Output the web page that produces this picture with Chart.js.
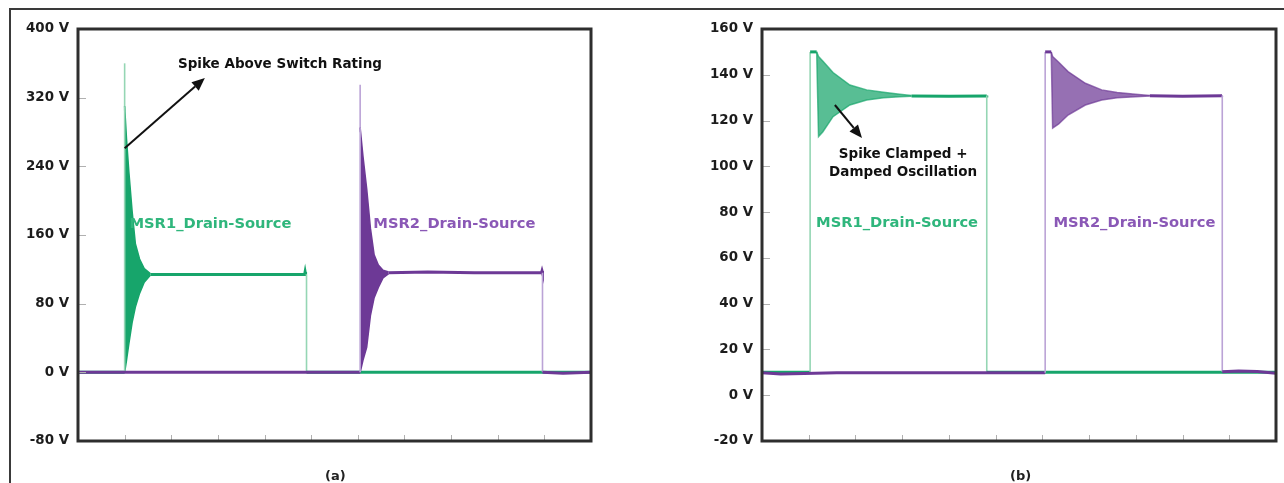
<!DOCTYPE html>
<html>
<head>
<meta charset="utf-8">
<script src="https://cdn.jsdelivr.net/npm/chart.js@4.4.1/dist/chart.umd.min.js"></script>
<style>
  body { margin: 0; background: #fff; width: 1284px; height: 483px; overflow: hidden; position: relative; }
  canvas { position: absolute; top: 0; }
  #chartA { left: 0; }
  #chartB { left: 640px; }
  .frame-top { position: absolute; left: 9px; top: 8px; width: 1275px; height: 0; border-top: 2px solid #3a3a3a; }
  .frame-left { position: absolute; left: 9px; top: 8px; width: 0; height: 475px; border-left: 2px solid #3a3a3a; }
  .cap { position: absolute; top: 468px; font: bold 13px "DejaVu Sans", sans-serif; color: #222; }
</style>
</head>
<body>
<canvas id="chartA" width="640" height="483"></canvas>
<canvas id="chartB" width="644" height="483"></canvas>
<div class="frame-top"></div>
<div class="frame-left"></div>
<div class="cap" style="left:325px">(a)</div>
<div class="cap" style="left:1010px">(b)</div>
<script>
// x is measured in scope divisions (0..11), y in volts

// ---- panel (a) ----
const aYTicks = [-80, 0, 80, 160, 240, 320, 400];
const xTicks = [1, 2, 3, 4, 5, 6, 7, 8, 9, 10];

const aMsr1X = [0, 1.0, 1.0, 1.55, 1.55, 4.86, 4.87, 4.88, 4.9, 4.9, 11];
const aMsr1Y = [0, 0, 310, null, 114, 114, 117, 114, 114, 0, 0];
const aSpike1X = [1.0, 1.0];
const aSpike1Y = [305, 360];
const aEnv1X = [1.0, 1.04, 1.09, 1.16, 1.23, 1.32, 1.42, 1.55];
const aEnv1Hi = [310, 272, 234, 188, 150, 132, 121, 115];
const aEnv1Lo = [0, 14, 33, 58, 76, 92, 105, 113];

const aMsr2X = [0, 6.05, 6.05, 6.66, 6.66, 7.5, 8.5, 9.94, 9.95, 9.96, 9.96, 10.4, 11];
const aMsr2Y = [0, 0, 285, null, 116, 117, 116, 116, 118, 116, 0, -1, 0];
const aSpike2X = [6.05, 6.05];
const aSpike2Y = [280, 335];
const aEnv2X = [6.05, 6.11, 6.19, 6.27, 6.35, 6.44, 6.54, 6.66];
const aEnv2Hi = [285, 252, 214, 168, 137, 125, 119, 117];
const aEnv2Lo = [0, 14, 29, 66, 87, 99, 110, 115];

// ---- panel (b) ----
const bYTicks = [-20, 0, 20, 40, 60, 80, 100, 120, 140, 160];

const bMsr1X = [0, 1.03, 1.03, 1.17, 3.2, 3.2, 4.0, 4.8, 4.81, 4.81, 11];
const bMsr1Y = [10, 10, 150, 150, null, 130.7, 130.6, 130.7, 131, 10, 10];
const bEnv1X = [1.17, 1.21, 1.3, 1.52, 1.88, 2.24, 2.6, 2.95, 3.2];
const bEnv1Hi = [150, 148, 146, 141, 135.5, 133.4, 132.4, 131.5, 130.9];
const bEnv1Lo = [150, 113, 115, 121.7, 126.8, 129, 130, 130.4, 130.6];

const bMsr2X = [0, 0.4, 0.9, 1.6, 6.06, 6.06, 6.19, 8.3, 8.3, 9.0, 9.84, 9.85, 9.85, 10.2, 10.6, 11];
const bMsr2Y = [9.8, 9.3, 9.5, 9.8, 9.8, 150, 150, null, 130.8, 130.6, 130.8, 131, 10.3, 10.6, 10.4, 9.6];
const bEnv2X = [6.19, 6.22, 6.35, 6.55, 6.92, 7.27, 7.6, 7.99, 8.3];
const bEnv2Hi = [150, 148, 145.5, 141.4, 136.3, 133.4, 132.3, 131.5, 130.9];
const bEnv2Lo = [150, 116.7, 118.5, 122.4, 126.8, 129, 130, 130.4, 130.7];

const GREEN = '#17a56b';
const GREEN_LIGHT = '#95d6b4';
const GREEN_TEXT = '#2fb67c';
const PURPLE = '#6d3996';
const PURPLE_LIGHT = '#bba3d6';
const PURPLE_TEXT = '#8a58b6';
const FONT = '"DejaVu Sans", sans-serif';

Chart.defaults.font.family = FONT;

const pts = (xs, ys) => xs.map((x, i) => ({ x: x, y: ys[i] }));
const vertical = c => c.p0.parsed.x === c.p1.parsed.x;

function trace(xs, ys, dark, light, width, order) {
    return {
        data: pts(xs, ys),
        borderColor: dark,
        borderWidth: width,
        pointRadius: 0,
        fill: false,
        order: order,
        segment: {
            borderColor: c => vertical(c) ? light : dark,
            borderWidth: c => vertical(c) ? 1.6 : width
        }
    };
}

function thin(xs, ys, color, order) {
    return { data: pts(xs, ys), borderColor: color, borderWidth: 1.6, pointRadius: 0, fill: false, order: order };
}

// upper envelope fills down to the lower one (next dataset)
function envelope(xs, hi, lo, line, fillColor, order) {
    return [
        { data: pts(xs, hi), borderColor: line, backgroundColor: fillColor, borderWidth: 1.5, pointRadius: 0, fill: '+1', order: order },
        { data: pts(xs, lo), borderColor: line, borderWidth: 1.5, pointRadius: 0, fill: false, order: order }
    ];
}

// border, inner tick marks, labels and arrows
function decor(notes, arrows) {
    return {
        id: 'decor',
        afterDraw(chart) {
            const { ctx, chartArea: a, scales } = chart;
            const xs = scales.x, ys = scales.y;
            ctx.save();
            ctx.strokeStyle = '#b0b0b0';
            ctx.lineWidth = 1;
            ys.ticks.forEach(t => {
                const py = Math.round(ys.getPixelForValue(t.value)) + 0.5;
                ctx.beginPath(); ctx.moveTo(a.left, py); ctx.lineTo(a.left + 8, py); ctx.stroke();
            });
            xTicks.forEach(v => {
                const px = Math.round(xs.getPixelForValue(v)) + 0.5;
                ctx.beginPath(); ctx.moveTo(px, a.bottom); ctx.lineTo(px, a.bottom - 6); ctx.stroke();
            });
            ctx.strokeStyle = '#2e2e2e';
            ctx.lineWidth = 3;
            ctx.strokeRect(a.left, a.top, a.right - a.left, a.bottom - a.top);

            ctx.textAlign = 'center';
            ctx.textBaseline = 'middle';
            notes.forEach(n => {
                ctx.fillStyle = n.color;
                ctx.font = n.font;
                ctx.fillText(n.text, xs.getPixelForValue(n.x), ys.getPixelForValue(n.y));
            });

            ctx.strokeStyle = '#111';
            ctx.fillStyle = '#111';
            ctx.lineWidth = 2;
            arrows.forEach(ar => {
                const x0 = xs.getPixelForValue(ar.from[0]), y0 = ys.getPixelForValue(ar.from[1]);
                const x1 = xs.getPixelForValue(ar.to[0]), y1 = ys.getPixelForValue(ar.to[1]);
                const ang = Math.atan2(y1 - y0, x1 - x0);
                const hl = 13, hw = 5.5;
                const bx = x1 - hl * Math.cos(ang), by = y1 - hl * Math.sin(ang);
                ctx.beginPath(); ctx.moveTo(x0, y0); ctx.lineTo(bx, by); ctx.stroke();
                ctx.beginPath();
                ctx.moveTo(x1, y1);
                ctx.lineTo(bx + hw * Math.sin(ang), by - hw * Math.cos(ang));
                ctx.lineTo(bx - hw * Math.sin(ang), by + hw * Math.cos(ang));
                ctx.closePath(); ctx.fill();
            });
            ctx.restore();
        }
    };
}

function makeOptions(min, max, tickValues, axisWidth, padRight) {
    return {
        responsive: false,
        animation: false,
        layout: { padding: { left: 0, top: 29, right: padRight, bottom: 42 } },
        plugins: { legend: { display: false }, tooltip: { enabled: false } },
        scales: {
            x: { type: 'linear', display: false, min: 0, max: 11 },
            y: {
                min: min,
                max: max,
                afterBuildTicks: s => { s.ticks = tickValues.map(v => ({ value: v })); },
                afterFit: s => { s.width = axisWidth; },
                grid: { display: false, drawTicks: false },
                border: { display: false },
                ticks: {
                    padding: 9,
                    color: '#1c1c1c',
                    font: { size: 13.4, weight: 'bold' },
                    callback: v => v + ' V'
                }
            }
        }
    };
}

const labelFont = 'bold 14.7px ' + FONT;
const noteFont = 'bold 13.5px ' + FONT;

new Chart(document.getElementById('chartA'), {
    type: 'line',
    data: {
        datasets: [
            trace(aMsr2X, aMsr2Y, PURPLE, PURPLE_LIGHT, 3, 1),
            ...envelope(aEnv2X, aEnv2Hi, aEnv2Lo, PURPLE, PURPLE, 2),
            thin(aSpike2X, aSpike2Y, PURPLE_LIGHT, 3),
            trace(aMsr1X, aMsr1Y, GREEN, GREEN_LIGHT, 3, 4),
            ...envelope(aEnv1X, aEnv1Hi, aEnv1Lo, GREEN, GREEN, 5),
            thin(aSpike1X, aSpike1Y, GREEN_LIGHT, 6)
        ]
    },
    options: makeOptions(-80, 400, aYTicks, 78, 49),
    plugins: [decor([
        { text: 'Spike Above Switch Rating', x: 4.33, y: 359, color: '#111', font: noteFont },
        { text: 'MSR1_Drain-Source', x: 2.84, y: 173, color: GREEN_TEXT, font: labelFont },
        { text: 'MSR2_Drain-Source', x: 8.07, y: 173, color: PURPLE_TEXT, font: labelFont }
    ], [
        { from: [1.0, 261], to: [2.72, 343] }
    ])]
});

new Chart(document.getElementById('chartB'), {
    type: 'line',
    data: {
        datasets: [
            trace(bMsr2X, bMsr2Y, PURPLE, PURPLE_LIGHT, 3, 1),
            ...envelope(bEnv2X, bEnv2Hi, bEnv2Lo, 'rgba(109,57,150,0.7)', 'rgba(109,57,150,0.72)', 2),
            trace(bMsr1X, bMsr1Y, GREEN, GREEN_LIGHT, 3, 4),
            ...envelope(bEnv1X, bEnv1Hi, bEnv1Lo, 'rgba(23,165,107,0.7)', 'rgba(23,165,107,0.72)', 5)
        ]
    },
    options: makeOptions(-20, 160, bYTicks, 122, 8),
    plugins: [decor([
        { text: 'Spike Clamped +', x: 3.02, y: 105, color: '#111', font: noteFont },
        { text: 'Damped Oscillation', x: 3.02, y: 97.5, color: '#111', font: noteFont },
        { text: 'MSR1_Drain-Source', x: 2.89, y: 75.2, color: GREEN_TEXT, font: labelFont },
        { text: 'MSR2_Drain-Source', x: 7.97, y: 75.2, color: PURPLE_TEXT, font: labelFont }
    ], [
        { from: [1.56, 126.8], to: [2.14, 112.4] }
    ])]
});
</script>
</body>
</html>
